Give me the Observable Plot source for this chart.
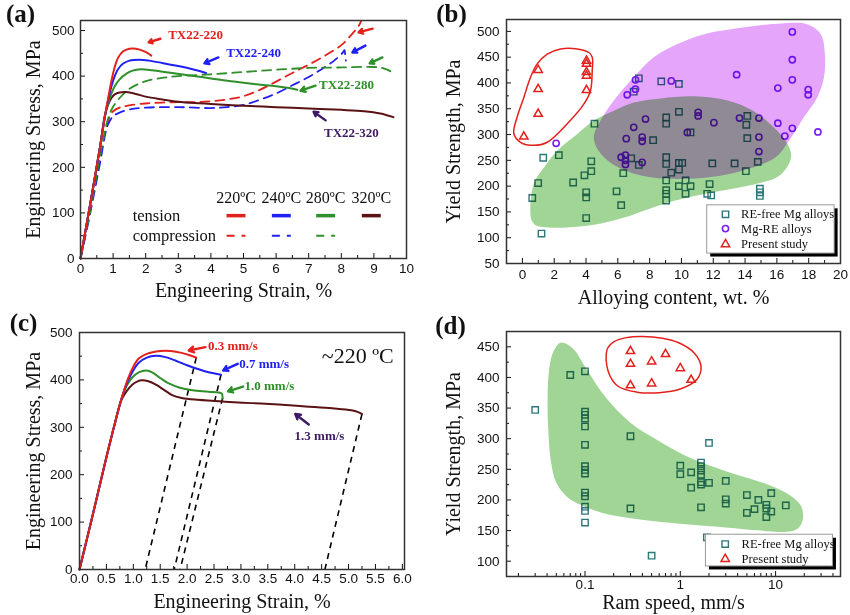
<!DOCTYPE html>
<html><head><meta charset="utf-8">
<script src="https://cdn.jsdelivr.net/npm/d3@7"></script>
<script src="https://cdn.jsdelivr.net/npm/@observablehq/plot@0.6"></script>
<style>
body{margin:0;background:#fff;}
#wrap{position:relative;width:850px;height:615px;overflow:hidden;background:#fff;}
#wrap > svg{position:absolute;}
</style></head><body><div id="wrap"></div>
<script>
const SANS = "'Liberation Sans', Arial, Helvetica, sans-serif";
const SERIF = "'Liberation Serif', 'Times New Roman', Times, serif";
const RED = "#e3211c", BLUE = "#2020f2", GREEN = "#2f8f2a", BROWN = "#5a1214", DPURPLE = "#3d1a63";
const TEAL = "#2f777b", VIOLET = "#7a1ff0", GBLOB = "#a0d596", MBLOB = "#e4a5fa";

// ---------- (a) tension / compression curves ----------
const ten220 = [[0,0],[0.3,120],[0.6,245],[0.75,312],[0.85,352],[0.95,390],[1.05,420],[1.15,440],[1.3,454],[1.5,460],[1.7,460],[1.9,456],[2.05,451],[2.17,445]];
const ten240 = [[0,0],[0.3,120],[0.6,245],[0.75,312],[0.85,348],[0.95,378],[1.05,400],[1.15,415],[1.3,427],[1.5,434],[1.8,436],[2.1,434],[2.5,429],[3.0,422],[3.5,414],[3.85,407]];
const ten280 = [[0,0],[0.3,120],[0.6,245],[0.75,312],[0.85,340],[0.95,362],[1.05,378],[1.2,393],[1.4,405],[1.6,412],[1.85,415],[2.2,413],[2.7,408],[3.3,402],[4,395],[4.7,388],[5.4,382],[6.0,378],[6.4,374],[6.65,370]];
const ten320 = [[0,0],[0.3,120],[0.6,245],[0.75,315],[0.85,338],[0.95,352],[1.05,360],[1.2,364],[1.4,365],[1.7,361],[2.0,355],[2.5,349],[3.0,344],[3.5,341],[4,339],[5,335],[6,332],[7,329],[8,326],[8.7,323],[9.2,318],[9.6,310]];
const com220 = [[0,0],[0.3,105],[0.6,220],[0.8,290],[0.9,312],[1.0,323],[1.2,331],[1.5,336],[2,340],[2.5,342],[3,343],[3.5,343],[4,345],[4.5,349],[5,356],[5.5,370],[6,388],[6.5,407],[7,425],[7.5,445],[8,468],[8.3,490],[8.55,512],[8.62,524]];
const com240 = [[0,0],[0.3,100],[0.6,210],[0.8,285],[0.9,302],[1.0,312],[1.2,320],[1.5,327],[2,331],[3,332],[4,330],[4.5,332],[5,337],[5.5,348],[6,362],[6.5,380],[7,398],[7.5,420],[7.8,435],[8.05,452],[8.1,457],[8.12,445],[8.14,434]];
const com280 = [[0,0],[0.3,105],[0.6,225],[0.8,295],[0.9,318],[1.0,333],[1.2,352],[1.5,372],[2,389],[2.5,396],[3,400],[4,404],[5,409],[6,414],[7,418],[8,419],[9,420],[9.3,417],[9.5,411],[9.6,405]];
const labelsA = [
  {t:"TX22-220", x:3.53, y:491, c:RED},
  {t:"TX22-240", x:5.31, y:450, c:BLUE},
  {t:"TX22-280", x:8.16, y:382, c:GREEN},
  {t:"TX22-320", x:8.31, y:276, c:DPURPLE}
];
const arrowsA = [
  {x1:2.45,y1:482,x2:2.09,y2:474,c:RED},
  {x1:4.23,y1:441,x2:3.80,y2:428,c:BLUE},
  {x1:7.21,y1:379,x2:6.75,y2:368,c:GREEN},
  {x1:7.52,y1:303,x2:7.15,y2:322,c:DPURPLE},
  {x1:8.96,y1:504,x2:8.53,y2:496,c:RED},
  {x1:8.74,y1:467,x2:8.34,y2:452,c:BLUE},
  {x1:9.26,y1:441,x2:8.87,y2:428,c:GREEN}
];
const legendTempsA = ["220ºC","240ºC","280ºC","320ºC"];
const legendXA = [4.77, 6.16, 7.52, 8.92];
const legendColorsA = [RED, BLUE, GREEN, BROWN];
const legendRowsA = [{t:"tension", y:94}, {t:"compression", y:50}];

// ---------- (b) yield strength vs alloying content ----------
const reFreeB = [[0.62,177],[0.99,206],[1.2,108],[1.31,255],[2.29,260],[3.19,207],[3.9,221],[4.01,188],[4.01,178],[4.01,138],[4.33,248],[4.33,229],[4.53,321],[5.92,190],[6.21,163],[6.34,225],[6.84,254],[7.0,383],[7.32,409],[7.32,241],[8.22,289],[8.73,403],[9.04,256],[9.04,243],[9.04,211],[9.04,192],[9.04,185],[9.04,172],[9.04,333],[9.04,321],[9.36,226],[9.84,398],[9.84,344],[9.84,245],[9.84,232],[9.84,200],[10.05,245],[10.26,211],[10.26,185],[10.57,200],[10.57,304],[11.77,204],[11.62,185],[11.87,182],[11.94,244],[13.34,244],[14.05,229],[14.08,319],[14.14,336],[14.14,293],[14.8,247],[14.93,195],[14.93,188],[14.93,181]];
const mgREB = [[2.12,283],[6.21,256],[6.48,260],[6.48,250],[6.48,242],[6.53,292],[6.59,377],[7.0,314],[7.11,388],[7.11,406],[7.53,295],[7.53,287],[7.53,246],[7.74,330],[9.36,404],[10.37,304],[11.05,343],[11.05,336],[12.04,323],[13.47,416],[13.65,332],[14.87,332],[14.87,295],[14.87,267],[16.06,390],[16.06,322],[16.5,297],[16.97,499],[16.97,445],[16.97,406],[16.97,312],[17.97,387],[17.97,377],[18.58,305]];
const presentB = [[0.09,296],[0.99,340],[0.99,388],[0.99,425],[4.03,386],[4.03,414],[4.03,421],[4.03,437],[4.03,443]];
const greenBlobB = [[0.5,150],[0.6,133],[0.9,123],[1.6,120],[2.8,120],[4.5,125],[6.3,138],[8.0,156],[9.6,172],[11.3,184],[12.7,192],[14.8,205],[16.0,217],[16.65,237],[16.9,260],[16.6,285],[15.8,314],[14.5,346],[12.9,366],[10.8,374],[8.7,370],[7.0,362],[5.75,346],[4.5,327],[3.45,301],[2.2,269],[1.4,238],[0.72,205]];
const magentaBlobB = [[4.49,295],[4.91,327],[5.75,366],[7.0,411],[8.26,450],[9.94,478],[11.5,495],[13.3,505],[16.03,515],[17.9,514],[18.75,495],[19.02,456],[18.96,411],[18.54,372],[17.7,334],[16.8,290],[15.92,256],[13.82,230],[11.72,217],[9.63,214],[7.53,220],[5.65,243],[4.8,268]];
const outlineB = [[-0.54,302],[-0.12,285],[0.72,279],[1.56,285],[2.82,321],[3.86,359],[4.28,385],[4.39,424],[4.39,450],[4.18,459],[3.45,466],[2.4,466],[1.56,456],[0.93,437],[0.51,411],[0.09,372],[-0.33,334]];
const legendBoxB = [{x1:11.62, x2:19.63, y1:69.3, y2:162.8}];
const legendRowsB = [{t:"RE-free Mg alloys", y:145.3}, {t:"Mg-RE alloys", y:117.7}, {t:"Present study", y:87.3}];
const legendSymXB = 12.77, legendTextXB = 13.75;

// ---------- (c) ram speed curves at ~220 ºC ----------
const c03 = [[0,0],[0.25,117],[0.5,237],[0.65,305],[0.78,360],[0.9,402],[1.0,428],[1.1,445],[1.25,455],[1.5,461],[1.7,461],[1.9,457],[2.05,452],[2.17,447]];
const c07 = [[0,0],[0.25,117],[0.5,237],[0.65,305],[0.78,360],[0.9,398],[1.0,420],[1.1,436],[1.25,447],[1.41,451],[1.6,448],[1.8,440],[2.0,431],[2.2,423],[2.4,416],[2.63,411]];
const c10 = [[0,0],[0.25,117],[0.5,237],[0.65,305],[0.78,360],[0.88,388],[0.98,405],[1.1,416],[1.24,420],[1.35,416],[1.5,404],[1.65,393],[1.85,384],[2.1,378],[2.4,375],[2.63,372],[2.65,370],[2.66,360]];
const c13 = [[0,0],[0.25,117],[0.5,237],[0.65,305],[0.78,358],[0.88,377],[0.98,390],[1.08,397],[1.16,399],[1.28,397],[1.42,390],[1.57,379],[1.72,368],[1.9,362],[2.2,358],[2.7,354],[3.2,351],[3.7,348],[4.2,344],[4.7,340],[5.05,336],[5.18,332],[5.25,328]];
const unloadC = [{x1:2.17,y1:447,x2:1.22,y2:0},{x1:2.63,y1:411,x2:1.76,y2:0},{x1:2.66,y1:362,x2:1.87,y2:0},{x1:5.25,y1:328,x2:4.56,y2:0}];
const labelsC = [
  {t:"0.3 mm/s", x:2.85, y:472, c:RED},
  {t:"0.7 mm/s", x:3.43, y:434, c:BLUE},
  {t:"1.0 mm/s", x:3.53, y:388, c:GREEN},
  {t:"1.3 mm/s", x:4.46, y:283, c:DPURPLE}
];
const arrowsC = [
  {x1:2.34,y1:469,x2:2.03,y2:462,c:RED},
  {x1:2.94,y1:434,x2:2.67,y2:420,c:BLUE},
  {x1:3.04,y1:386,x2:2.76,y2:376,c:GREEN},
  {x1:4.26,y1:306,x2:4.01,y2:328,c:DPURPLE}
];
const tempLabelC = [{t:"~220 ºC", x:5.84, y:451}];

// ---------- (d) yield strength vs ram speed ----------
const reFreeD = [[0.03,347],[0.07,404],[0.1,410],[0.1,344],[0.1,339],[0.1,333],[0.1,320],[0.1,290],[0.1,255],[0.1,249],[0.1,243],[0.1,212],[0.1,206],[0.1,189],[0.1,182],[0.1,163],[0.3,304],[0.3,186],[0.5,109],[1,256],[1,242],[1.3,245],[1.3,220],[1.65,261],[1.65,255],[1.65,248],[1.65,241],[1.65,229],[1.65,225],[1.65,188],[2,293],[2,228],[3,231],[3,201],[3,194],[5,208],[5,179],[6,185],[6.6,200],[8,192],[8,186],[8,172],[9,211],[9,181],[12.8,191],[1.9,139]];
const presentD = [[0.3,443],[0.3,422],[0.3,387],[0.5,426],[0.5,390],[0.7,438],[1,415],[1.3,396]];
const greenBlobD = [[0.056,457],[0.046,440],[0.0415,405],[0.0405,360],[0.041,320],[0.044,262],[0.05,228],[0.065,205],[0.09,192],[0.15,179],[0.3,170],[1,161],[3,155],[7,150],[13,148],[17,153],[19.3,168],[18.5,190],[14,208],[8,226],[3,247],[1.3,268],[0.6,296],[0.3,326],[0.16,370],[0.1,418],[0.075,447]];
const outlineD = [[0.17,445],[0.2,458],[0.27,465],[0.4,467],[0.65,464],[0.95,457],[1.4,440],[1.65,418],[1.5,397],[1.0,381],[0.6,375],[0.35,376],[0.22,386],[0.175,410]];
const legendBoxD = [{x1:1.858, x2:40, y1:91.4, y2:143.2}];
const legendRowsD = [{t:"RE-free Mg alloys", y:128}, {t:"Present study", y:103.5}];
const legendSymXD = 2.96, legendTextXD = 4.4;

// ---------- tick values ----------
const ticksA_x = d3.range(0, 11, 1), ticksA_xm = d3.range(0.5, 10, 1);
const ticksA_y = d3.range(0, 501, 100), ticksA_ym = d3.range(50, 501, 100);
const ticksB_x = d3.range(0, 21, 2), ticksB_xm = d3.range(-1, 20, 2);
const ticksB_y = d3.range(50, 501, 50), ticksB_ym = d3.range(75, 501, 50);
const ticksC_x = d3.range(0, 6.01, 0.5), ticksC_xm = d3.range(0.25, 6, 0.5);
const ticksC_y = d3.range(0, 501, 100), ticksC_ym = d3.range(50, 501, 100);
const ticksD_x = [0.1, 1, 10];
const ticksD_xm = [0.02,0.03,0.04,0.05,0.06,0.07,0.08,0.09,0.2,0.3,0.4,0.5,0.6,0.7,0.8,0.9,2,3,4,5,6,7,8,9,20,30,40];
const ticksD_y = d3.range(100, 451, 50), ticksD_ym = d3.range(125, 451, 50);

// ---------- helpers ----------
const X = d => d[0], Y = d => d[1];
function axisMarks(xMaj, xMin, yMaj, yMin, xFmt, yFmt, xOff, yOff) {
  return [
    Plot.axisX({ticks: xMaj, tickSize: -5, tickPadding: xOff + 5, tickFormat: xFmt, label: null}),
    Plot.axisX({ticks: xMin, tickSize: -3, tickFormat: () => "", label: null}),
    Plot.axisY({ticks: yMaj, tickSize: -5, tickPadding: yOff + 5, tickFormat: yFmt, label: null}),
    Plot.axisY({ticks: yMin, tickSize: -3, tickFormat: () => "", label: null})
  ];
}
function titles(xt, yt, xdy, ydx, tag, tdx, tdy) {
  return [
    Plot.text([xt], {frameAnchor: "bottom", dy: xdy, textAnchor: "middle", lineAnchor: "middle", fontFamily: SERIF, fontSize: 20, fill: "#111"}),
    Plot.text([yt], {frameAnchor: "left", dx: ydx, rotate: -90, textAnchor: "middle", lineAnchor: "middle", fontFamily: SERIF, fontSize: 20, fill: "#111"}),
    Plot.text([tag], {frameAnchor: "top-left", dx: tdx, dy: tdy, textAnchor: "middle", lineAnchor: "middle", fontFamily: SERIF, fontSize: 25, fontWeight: "bold", fill: "#111"}),
    Plot.frame({stroke: "#333", strokeWidth: 1.5})
  ];
}
const baseStyle = {fontFamily: SANS, fontSize: "13.5px", color: "#111", background: "transparent", overflow: "visible"};
function place(svg, left, top) { svg.style.left = left + "px"; svg.style.top = top + "px"; document.getElementById("wrap").appendChild(svg); }
const f0 = d => String(d);

// ---------- panel (a) ----------
const legendSegA = [];
legendXA.forEach((x, i) => {
  legendSegA.push({x1: x - 0.29, x2: x + 0.29, y: 94, c: legendColorsA[i], dash: false});
  if (i < 3) legendSegA.push({x1: x - 0.29, x2: x + 0.29, y: 50, c: legendColorsA[i], dash: true});
});
const pa = Plot.plot({
  width: 425, height: 300, marginLeft: 80, marginRight: 19, marginTop: 20, marginBottom: 42,
  x: {domain: [0, 10]}, y: {domain: [0, 522]}, color: {type: "identity"},
  style: baseStyle,
  marks: [
    ...axisMarks(ticksA_x, ticksA_xm, ticksA_y, ticksA_ym, f0, f0, 5, 6),
    Plot.line(com220, {x: X, y: Y, stroke: RED, strokeWidth: 1.8, strokeDasharray: "9,6", curve: "catmull-rom", clip: true}),
    Plot.line(com240, {x: X, y: Y, stroke: BLUE, strokeWidth: 1.8, strokeDasharray: "9,6", curve: "catmull-rom"}),
    Plot.line(com280, {x: X, y: Y, stroke: GREEN, strokeWidth: 1.8, strokeDasharray: "9,6", curve: "catmull-rom"}),
    Plot.line(ten320, {x: X, y: Y, stroke: BROWN, strokeWidth: 2, curve: "catmull-rom"}),
    Plot.line(ten280, {x: X, y: Y, stroke: GREEN, strokeWidth: 2, curve: "catmull-rom"}),
    Plot.line(ten240, {x: X, y: Y, stroke: BLUE, strokeWidth: 2, curve: "catmull-rom"}),
    Plot.line(ten220, {x: X, y: Y, stroke: RED, strokeWidth: 2, curve: "catmull-rom"}),
    Plot.arrow(arrowsA, {x1: "x1", y1: "y1", x2: "x2", y2: "y2", stroke: "c", strokeWidth: 2.4, headLength: 7}),
    Plot.text(labelsA, {x: "x", y: "y", text: "t", fill: "c", fontFamily: SERIF, fontWeight: "bold", fontSize: 13}),
    Plot.text(legendTempsA, {x: (d, i) => legendXA[i], y: () => 134, text: d => d, fontFamily: SERIF, fontSize: 16, fill: "#111"}),
    Plot.text(legendRowsA, {x: () => 1.6, y: "y", text: "t", textAnchor: "start", fontFamily: SERIF, fontSize: 16.5, fill: "#111"}),
    Plot.link(legendSegA.filter(d => !d.dash), {x1: "x1", x2: "x2", y1: "y", y2: "y", stroke: "c", strokeWidth: 3.5}),
    Plot.link(legendSegA.filter(d => d.dash), {x1: "x1", x2: "x2", y1: "y", y2: "y", stroke: "c", strokeWidth: 2, strokeDasharray: "8,7"}),
    ...titles("Engineering Strain, %", "Engineering Stress, MPa", 32, -47, "(a)", -60, -7)
  ]
});
place(pa, 0, 0);

// ---------- panel (b) ----------
const pb = Plot.plot({
  width: 425, height: 300, marginLeft: 81, marginRight: 10, marginTop: 19, marginBottom: 37,
  x: {domain: [-1, 20]}, y: {domain: [50, 523]}, color: {type: "identity"},
  style: baseStyle,
  marks: [
    ...axisMarks(ticksB_x, ticksB_xm, ticksB_y, ticksB_ym, f0, f0, 6, 7),
    Plot.dot(reFreeB, {x: X, y: Y, symbol: "square", r: 3.6, stroke: TEAL, strokeWidth: 1.4, fill: "none"}),
    Plot.dot(mgREB, {x: X, y: Y, symbol: "circle", r: 3.1, stroke: VIOLET, strokeWidth: 1.6, fill: "none"}),
    Plot.line(greenBlobB, {x: X, y: Y, curve: "catmull-rom-closed", fill: GBLOB, stroke: "none", mixBlendMode: "multiply"}),
    Plot.line(magentaBlobB, {x: X, y: Y, curve: "catmull-rom-closed", fill: MBLOB, stroke: "none", mixBlendMode: "multiply"}),
    Plot.line(outlineB, {x: X, y: Y, curve: "catmull-rom-closed", stroke: RED, strokeWidth: 1.5, fill: "none"}),
    Plot.dot(presentB, {x: X, y: Y, symbol: "triangle", r: 3.1, stroke: RED, strokeWidth: 1.5, fill: "none"}),
    Plot.rect(legendBoxB, {x1: "x1", x2: "x2", y1: "y1", y2: "y2", fill: "#000", dx: 3.5, dy: 3.5}),
    Plot.rect(legendBoxB, {x1: "x1", x2: "x2", y1: "y1", y2: "y2", fill: "#fff", stroke: "#999", strokeWidth: 1}),
    Plot.dot([legendRowsB[0]], {x: () => legendSymXB, y: "y", symbol: "square", r: 3.6, stroke: TEAL, strokeWidth: 1.4, fill: "none"}),
    Plot.dot([legendRowsB[1]], {x: () => legendSymXB, y: "y", symbol: "circle", r: 3.1, stroke: VIOLET, strokeWidth: 1.6, fill: "none"}),
    Plot.dot([legendRowsB[2]], {x: () => legendSymXB, y: "y", symbol: "triangle", r: 3.1, stroke: RED, strokeWidth: 1.5, fill: "none"}),
    Plot.text(legendRowsB, {x: () => legendTextXB, y: "y", text: "t", textAnchor: "start", fontFamily: SERIF, fontSize: 12.5, fill: "#111"}),
    ...titles("Alloying content, wt. %", "Yield Strength, MPa", 34, -53, "(b)", -55, -6)
  ]
});
place(pb, 425, 0);

// ---------- panel (c) ----------
const pc = Plot.plot({
  width: 425, height: 315, marginLeft: 79, marginRight: 21, marginTop: 32, marginBottom: 46,
  x: {domain: [0, 6.04]}, y: {domain: [0, 500]}, color: {type: "identity"},
  style: baseStyle,
  marks: [
    ...axisMarks(ticksC_x, ticksC_xm, ticksC_y, ticksC_ym, d => d.toFixed(1), f0, 4, 7),
    Plot.link(unloadC, {x1: "x1", y1: "y1", x2: "x2", y2: "y2", stroke: "#000", strokeWidth: 1.6, strokeDasharray: "6,5"}),
    Plot.line(c13, {x: X, y: Y, stroke: BROWN, strokeWidth: 2, curve: "catmull-rom"}),
    Plot.line(c10, {x: X, y: Y, stroke: GREEN, strokeWidth: 2, curve: "catmull-rom"}),
    Plot.line(c07, {x: X, y: Y, stroke: BLUE, strokeWidth: 2, curve: "catmull-rom"}),
    Plot.line(c03, {x: X, y: Y, stroke: RED, strokeWidth: 2, curve: "catmull-rom"}),
    Plot.arrow(arrowsC, {x1: "x1", y1: "y1", x2: "x2", y2: "y2", stroke: "c", strokeWidth: 2.4, headLength: 7}),
    Plot.text(labelsC, {x: "x", y: "y", text: "t", fill: "c", fontFamily: SERIF, fontWeight: "bold", fontSize: 13}),
    Plot.text(tempLabelC, {x: "x", y: "y", text: "t", textAnchor: "end", fontFamily: SERIF, fontSize: 22, fill: "#111"}),
    ...titles("Engineering Strain, %", "Engineering Stress, MPa", 32, -46, "(c)", -56, -10)
  ]
});
place(pc, 0, 300);

// ---------- panel (d) ----------
const pd = Plot.plot({
  width: 425, height: 315, marginLeft: 81, marginRight: 10, marginTop: 31, marginBottom: 39,
  x: {type: "log", domain: [0.015, 48]}, y: {domain: [75, 475]}, color: {type: "identity"},
  style: baseStyle,
  marks: [
    ...axisMarks(ticksD_x, ticksD_xm, ticksD_y, ticksD_ym, f0, f0, 3, 7),
    Plot.dot(reFreeD, {x: X, y: Y, symbol: "square", r: 3.6, stroke: TEAL, strokeWidth: 1.4, fill: "none"}),
    Plot.line(greenBlobD, {x: X, y: Y, curve: "catmull-rom-closed", fill: GBLOB, stroke: "none", mixBlendMode: "multiply"}),
    Plot.line(outlineD, {x: X, y: Y, curve: "catmull-rom-closed", stroke: RED, strokeWidth: 1.5, fill: "none"}),
    Plot.dot(presentD, {x: X, y: Y, symbol: "triangle", r: 3.1, stroke: RED, strokeWidth: 1.5, fill: "none"}),
    Plot.rect(legendBoxD, {x1: "x1", x2: "x2", y1: "y1", y2: "y2", fill: "#000", dx: 3.5, dy: 3.5}),
    Plot.rect(legendBoxD, {x1: "x1", x2: "x2", y1: "y1", y2: "y2", fill: "#fff", stroke: "#999", strokeWidth: 1}),
    Plot.dot([legendRowsD[0]], {x: () => legendSymXD, y: "y", symbol: "square", r: 3.6, stroke: TEAL, strokeWidth: 1.4, fill: "none"}),
    Plot.dot([legendRowsD[1]], {x: () => legendSymXD, y: "y", symbol: "triangle", r: 3.1, stroke: RED, strokeWidth: 1.5, fill: "none"}),
    Plot.text(legendRowsD, {x: () => legendTextXD, y: "y", text: "t", textAnchor: "start", fontFamily: SERIF, fontSize: 12.5, fill: "#111"}),
    ...titles("Ram speed, mm/s", "Yield Strength, MPa", 26, -53, "(d)", -56, -6)
  ]
});
place(pd, 425, 300);
</script>
</body></html>
